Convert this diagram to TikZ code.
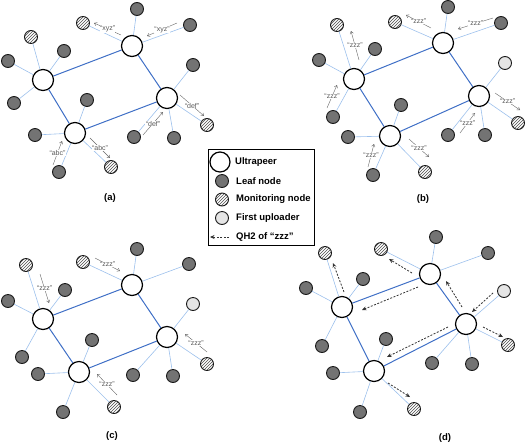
\documentclass[tikz,border=0pt]{standalone}
\usepackage{fontspec}
\setmainfont{Liberation Sans}
\usetikzlibrary{patterns,arrows.meta}
\definecolor{upblue}{HTML}{3F6FC6}
\definecolor{lfblue}{HTML}{9CC0EC}
\newcommand\lf[4]{\node[#1] (#2) at (#3) {}; \draw[lfl] (#4) -- (#2);}
\newcommand\qlab[3]{\draw[qa] #1 -- node[ql]{#3} #2;}
\begin{document}
\begin{tikzpicture}[x=1pt,y=-1pt,
 up/.style={circle,draw=black,line width=1.2pt,fill=white,minimum size=21pt,inner sep=0pt},
 leaf/.style={circle,draw=black!90,line width=0.9pt,fill=black!55,minimum size=13pt,inner sep=0pt},
 mon/.style={circle,draw=black!90,line width=0.9pt,pattern=north east lines,pattern color=black!70,minimum size=13pt,inner sep=0pt},
 fu/.style={circle,draw=black!90,line width=0.9pt,fill=black!10,minimum size=13pt,inner sep=0pt},
 upl/.style={draw=upblue,line width=1pt},
 lfl/.style={draw=lfblue,line width=0.6pt},
 qa/.style={draw=black!60,line width=0.4pt,-{Straight Barb[length=2.5pt,width=3.5pt]}},
 ql/.style={font=\fontsize{7}{8}\selectfont,text=black!65,fill=white,inner sep=0.4pt},
 qh/.style={draw=black!80,line width=0.8pt,dash pattern=on 2pt off 1.5pt,-{Stealth[length=4.5pt,width=4pt]}},
 lt/.style={anchor=west,font=\bfseries\fontsize{9.5}{10}\selectfont,inner sep=0pt},
 pl/.style={font=\bfseries\fontsize{9.5}{10}\selectfont}]
\useasboundingbox (0,0) rectangle (526,445);
% ---------- panel (a)
\node[up] (aU1) at (43,80) {};
\node[up] (aU2) at (132,46) {};
\node[up] (aU3) at (167,98) {};
\node[up] (aU4) at (75,133) {};
\draw[upl] (aU1)--(aU2) (aU2)--(aU3) (aU3)--(aU4) (aU4)--(aU1);
\lf{leaf}{aA1}{8,61}{aU1}
\lf{leaf}{aA2}{64,51}{aU1}
\lf{leaf}{aA3}{14,103}{aU1}
\lf{mon}{aA4}{31,37}{aU1}
\lf{leaf}{aB1}{137,9}{aU2}
\lf{leaf}{aB2}{190,25}{aU2}
\lf{mon}{aB3}{83,23}{aU2}
\lf{leaf}{aC1}{193,65}{aU3}
\lf{leaf}{aC2}{134,137}{aU3}
\lf{leaf}{aC3}{174,138}{aU3}
\lf{mon}{aC4}{207,125}{aU3}
\lf{leaf}{aD1}{87,100}{aU4}
\lf{leaf}{aD2}{35,135}{aU4}
\lf{leaf}{aD3}{59,172}{aU4}
\lf{mon}{aD4}{111,167}{aU4}
\qlab{(121,35)}{(94,23)}{“xyz”}
\qlab{(177,23)}{(147,36)}{“xyz”}
\qlab{(180,95)}{(204,116)}{“def”}
\qlab{(143,135)}{(163,112)}{“def”}
\qlab{(53,165)}{(62,141)}{“abc”}
\qlab{(90,138)}{(110,158)}{“abc”}
\node[pl] (la) at (110,198) {(a)};
% ---------- panel (b)
\node[up] (bU1) at (354,79) {};
\node[up] (bU2) at (443,43) {};
\node[up] (bU3) at (479,96) {};
\node[up] (bU4) at (390,136) {};
\draw[upl] (bU1)--(bU2) (bU2)--(bU3) (bU3)--(bU4) (bU4)--(bU1);
\lf{mon}{bA1}{337,25}{bU1}
\lf{leaf}{bA2}{375,49}{bU1}
\lf{leaf}{bA3}{319,60}{bU1}
\lf{leaf}{bA4}{333,117}{bU1}
\lf{mon}{bB1}{395,22}{bU2}
\lf{leaf}{bB2}{448,7}{bU2}
\lf{leaf}{bB3}{501,23}{bU2}
\lf{fu}{bC1}{505,63}{bU3}
\lf{mon}{bC2}{518,123}{bU3}
\lf{leaf}{bC3}{448,135}{bU3}
\lf{leaf}{bC4}{485,135}{bU3}
\lf{leaf}{bD1}{401,105}{bU4}
\lf{leaf}{bD2}{348,137}{bU4}
\lf{leaf}{bD3}{373,175}{bU4}
\lf{mon}{bD4}{425,172}{bU4}
\qlab{(359,60)}{(351,31)}{“zzz”}
\qlab{(327,108)}{(337,85)}{“zzz”}
\qlab{(431,28)}{(406,15)}{“zzz”}
\qlab{(493,18)}{(458,29)}{“zzz”}
\qlab{(495,93)}{(520,110)}{“zzz”}
\qlab{(460,133)}{(475,113)}{“zzz”}
\qlab{(368,167)}{(374,144)}{“zzz”}
\qlab{(409,139)}{(429,157)}{“zzz”}
\node[pl] (lb) at (423,199) {(b)};
% ---------- panel (c)
\node[up] (cU1) at (43,319) {};
\node[up] (cU2) at (132,285) {};
\node[up] (cU3) at (167,337) {};
\node[up] (cU4) at (79,372) {};
\draw[upl] (cU1)--(cU2) (cU2)--(cU3) (cU3)--(cU4) (cU4)--(cU1);
\lf{mon}{cA1}{26,265}{cU1}
\lf{leaf}{cA2}{8,301}{cU1}
\lf{leaf}{cA3}{65,290}{cU1}
\lf{leaf}{cA4}{22,357}{cU1}
\lf{mon}{cB1}{83,262}{cU2}
\lf{leaf}{cB2}{137,249}{cU2}
\lf{leaf}{cB3}{189,264}{cU2}
\lf{fu}{cC1}{193,304}{cU3}
\lf{mon}{cC2}{207,364}{cU3}
\lf{leaf}{cC3}{133,375}{cU3}
\lf{leaf}{cC4}{173,376}{cU3}
\lf{leaf}{cD1}{92,340}{cU4}
\lf{leaf}{cD2}{38,374}{cU4}
\lf{leaf}{cD3}{63,412}{cU4}
\lf{mon}{cD4}{114,407}{cU4}
\qlab{(40,274)}{(49,303)}{“zzz”}
\qlab{(95,258)}{(120,271)}{“zzz”}
\qlab{(207,352)}{(185,334)}{“zzz”}
\qlab{(117,395)}{(97,374)}{“zzz”}
\node[pl] (lc) at (112,436) {(c)};
% ---------- panel (d)
\node[up] (dU1) at (342,307) {};
\node[up] (dU2) at (430,274) {};
\node[up] (dU3) at (466,324) {};
\node[up] (dU4) at (374,371) {};
\draw[upl] (dU1)--(dU2) (dU2)--(dU3) (dU3)--(dU4) (dU4)--(dU1);
\lf{mon}{dA1}{325,253}{dU1}
\lf{leaf}{dA2}{363,279}{dU1}
\lf{leaf}{dA3}{306,288}{dU1}
\lf{leaf}{dA4}{322,346}{dU1}
\lf{mon}{dB1}{381,249}{dU2}
\lf{leaf}{dB2}{436,237}{dU2}
\lf{leaf}{dB3}{488,253}{dU2}
\lf{fu}{dC1}{504,291}{dU3}
\lf{mon}{dC2}{508,345}{dU3}
\lf{leaf}{dC3}{432,363}{dU3}
\lf{leaf}{dC4}{472,364}{dU3}
\lf{leaf}{dD1}{386,339}{dU4}
\lf{leaf}{dD2}{333,373}{dU4}
\lf{leaf}{dD3}{360,412}{dU4}
\lf{mon}{dD4}{414,409}{dU4}
\draw[qh] (412,273) -- (389,259);
\draw[qh] (418,287) -- (362,310);
\draw[qh] (462,307) -- (446,281);
\draw[qh] (493,293) -- (472,312);
\draw[qh] (483,327) -- (503,337);
\draw[qh] (448,327) -- (387,357);
\draw[qh] (344,292) -- (333,263);
\draw[qh] (388,383) -- (410,397);
\node[pl] (ld) at (445,438) {(d)};
% ---------- legend
\node[draw=black,line width=0.8pt,minimum width=106pt,minimum height=96pt,inner sep=0pt] (key) at (261,197) {};
\node[up,minimum size=20pt] (kU) at (220,162) {};
\node[leaf] (kL) at (222,181) {};
\node[mon] (kM) at (222,199.5) {};
\node[fu] (kF) at (222,218) {};
\coordinate (kA1) at (229,237);
\coordinate (kA2) at (210,237);
\draw[qh,line width=0.6pt] (kA1) -- (kA2);
\node[lt] (tU) at (235,162) {Ultrapeer};
\node[lt] (tL) at (236,181) {Leaf node};
\node[lt] (tM) at (236,199.5) {Monitoring node};
\node[lt] (tF) at (236,218) {First uploader};
\node[lt] (tA) at (236,237) {QH2 of “zzz”};
\end{tikzpicture}
\end{document}
